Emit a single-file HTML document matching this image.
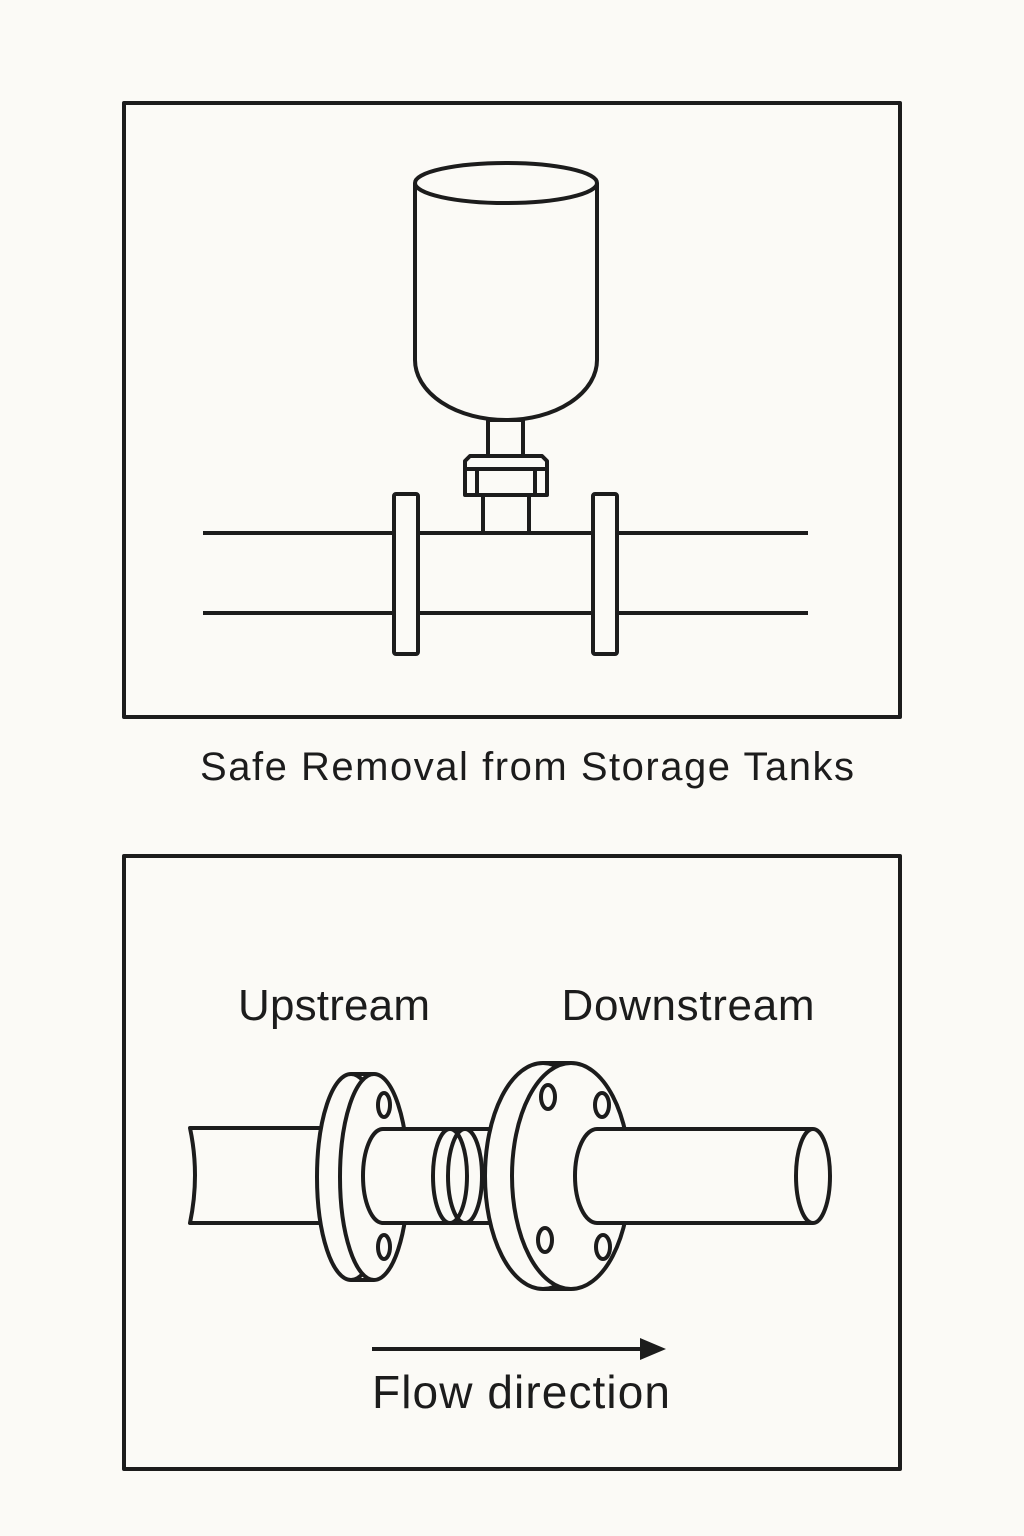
<!DOCTYPE html>
<html><head><style>
html,body{margin:0;padding:0;background:#fbfaf6;}
svg{display:block}
text{font-family:"Liberation Sans",sans-serif;fill:#1c1c1c}
</style></head><body>
<svg width="1024" height="1536" viewBox="0 0 1024 1536" xmlns="http://www.w3.org/2000/svg">
<rect width="1024" height="1536" fill="#fbfaf6"/>
<g fill="none" stroke="#1c1c1c" stroke-width="4" stroke-linejoin="round">
<rect x="124" y="103" width="776" height="614"/>
<rect x="124" y="856" width="776" height="613"/>
<!-- tank -->
<path d="M415 183 V360 A91 60 0 0 0 597 360 V183" fill="#fbfaf6"/>
<ellipse cx="506" cy="183" rx="91" ry="20"/>
<rect x="488" y="420" width="35" height="36"/>
<path d="M470 456 H542 L547 461 V495 H465 V461 Z" fill="#fbfaf6"/>
<line x1="466" y1="469" x2="546" y2="469"/>
<line x1="477" y1="469" x2="477" y2="495"/>
<line x1="535" y1="469" x2="535" y2="495"/>
<line x1="483" y1="495" x2="483" y2="533"/>
<line x1="529" y1="495" x2="529" y2="533"/>
<line x1="203" y1="533" x2="808" y2="533"/>
<line x1="203" y1="613" x2="808" y2="613"/>
<rect x="394" y="494" width="24" height="160" rx="2" fill="#fbfaf6"/>
<rect x="593" y="494" width="24" height="160" rx="2" fill="#fbfaf6"/>
<!-- bottom pipe -->
<path d="M330 1128 H190 Q200 1175 190 1223 H330" fill="#fbfaf6"/>
<path d="M351 1075 H374 V1280 H351 Z" stroke="none" fill="#fbfaf6"/>
<ellipse cx="351" cy="1177" rx="34" ry="103" fill="#fbfaf6"/>
<line x1="351" y1="1074" x2="374" y2="1074"/>
<line x1="351" y1="1280" x2="374" y2="1280"/>
<ellipse cx="374" cy="1177" rx="34" ry="103" fill="#fbfaf6"/>
<ellipse cx="384" cy="1105" rx="6" ry="12"/>
<ellipse cx="384" cy="1247" rx="6" ry="12"/>
<path d="M530 1129 H383 A20 47 0 0 0 383 1223 H530" fill="#fbfaf6"/>
<ellipse cx="450" cy="1176" rx="17" ry="47"/>
<ellipse cx="465" cy="1176" rx="17" ry="47"/>
<path d="M543 1063 H571 V1290 H543 Z" stroke="none" fill="#fbfaf6"/>
<ellipse cx="543" cy="1176" rx="58" ry="113" fill="#fbfaf6"/>
<line x1="543" y1="1063" x2="571" y2="1063"/>
<line x1="543" y1="1289" x2="571" y2="1289"/>
<ellipse cx="571" cy="1176" rx="59" ry="113" fill="#fbfaf6"/>
<ellipse cx="548" cy="1097" rx="7" ry="12"/>
<ellipse cx="602" cy="1105" rx="7" ry="12"/>
<ellipse cx="545" cy="1240" rx="7" ry="12"/>
<ellipse cx="603" cy="1247" rx="7" ry="12"/>
<path d="M813 1129 H597 A22 47 0 0 0 597 1223 H813" fill="#fbfaf6"/>
<ellipse cx="813" cy="1176" rx="17" ry="47" fill="#fbfaf6"/>
<line x1="372" y1="1349" x2="645" y2="1349"/>
</g>
<polygon points="640,1338 666,1349 640,1360" fill="#1c1c1c"/>
<text x="527" y="780" font-size="40" text-anchor="middle" textLength="654">Safe Removal from Storage Tanks</text>
<text x="334" y="1020" font-size="44" text-anchor="middle" textLength="192">Upstream</text>
<text x="688" y="1020" font-size="44" text-anchor="middle" textLength="253">Downstream</text>
<text x="521" y="1408" font-size="46" text-anchor="middle" textLength="298">Flow direction</text>
</svg>
</body></html>
